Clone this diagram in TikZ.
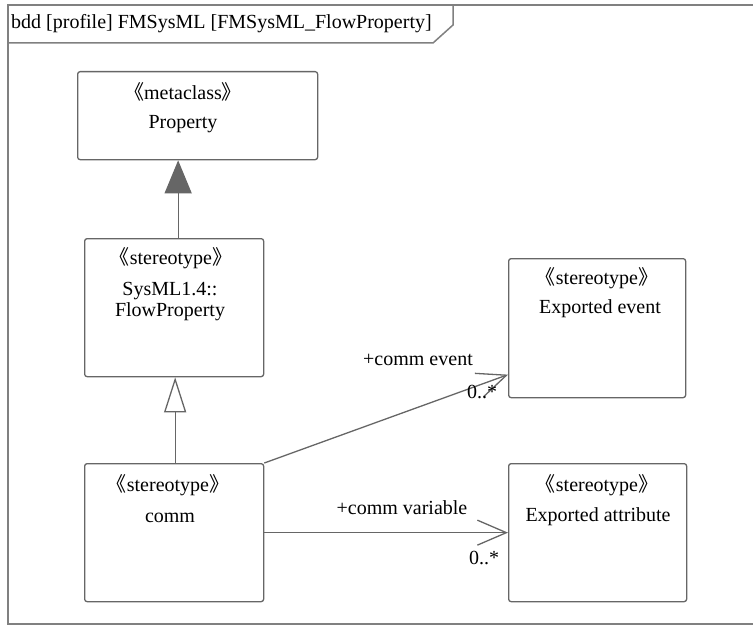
\documentclass[tikz,border=0pt]{standalone}
\usepackage{fontspec}
\setmainfont{Liberation Serif}
\newfontfamily\cjk{Noto Sans CJK SC}
\usetikzlibrary{arrows.meta}
\definecolor{framegray}{HTML}{808080}
\definecolor{linegray}{HTML}{666666}
\newcommand\diafont{\fontsize{20pt}{21pt}\selectfont}
\newcommand\stereo[1]{\kern-0.45em{\cjk 《}#1{\cjk 》}\kern-0.45em}

\begin{document}
\begin{tikzpicture}[x=1pt, y=-1pt, every node/.style={font=\diafont, inner sep=0pt},
	classbox/.style={draw=linegray, line width=1.3pt, rounded corners=2.5pt, anchor=north west},
	conn/.style={draw=linegray, line width=1.3pt},
	gen/.style={conn, -{Triangle[length=33pt, width=27pt, fill=linegray]}},
	realize/.style={conn, -{Triangle[open, length=35pt, width=22pt, fill=white]}},
	assoc/.style={conn, -{Straight Barb[length=29pt, width=25pt]}}]
	\useasboundingbox (0,0) rectangle (753,626);
	% frame and its tab
	\draw[framegray, line width=2pt] (765,5) -- (8,5) -- (8,624) -- (765,624);
	\draw[framegray, line width=1.5pt] (8,43) -- (433,43) -- (453,25) -- (453,5);
	\node[anchor=west] (title) at (11,24) {bdd [profile] FMSysML [FMSysML\_FlowProperty]};
	% classes
	\node[classbox, minimum width=240pt, minimum height=88pt] (property) at (77,71) {};
	\node (propertyst) at (183,92) {\stereo{metaclass}};
	\node (propertyname) at (183,124) {Property};
	\node[classbox, minimum width=179pt, minimum height=138pt] (flowprop) at (84,238) {};
	\node (flowpropst) at (171,258) {\stereo{stereotype}};
	\node[align=center] (flowpropname) at (170,302) {SysML1.4::\\FlowProperty};
	\node[classbox, minimum width=179pt, minimum height=138pt] (comm) at (84,463) {};
	\node (commst) at (168,485) {\stereo{stereotype}};
	\node (commname) at (170,518) {comm};
	\node[classbox, minimum width=177pt, minimum height=139pt] (event) at (508,258) {};
	\node (eventst) at (597,278) {\stereo{stereotype}};
	\node (eventname) at (600,309) {Exported event};
	\node[classbox, minimum width=178pt, minimum height=138pt] (attr) at (508,463) {};
	\node (attrst) at (597,485) {\stereo{stereotype}};
	\node (attrname) at (598,517) {Exported attribute};
	% relations
	\draw[gen] ([xshift=4pt]flowprop.north) -- ([xshift=4pt]flowprop.north |- property.south);
	\draw[realize] ([xshift=1pt]comm.north) -- ([xshift=1pt]comm.north |- flowprop.south);
	\draw[assoc] (comm.north east) -- ([yshift=-46.5pt]event.west);
	\draw[assoc] (comm.east) -- (comm.east -| attr.west);
	% association ends
	\node (eventrole) at (418,360) {+comm event};
	\node (eventmult) at (482,392) {0..*};
	\node (attrrole) at (402,508) {+comm variable};
	\node (attrmult) at (484,558) {0..*};
\end{tikzpicture}
\end{document}
